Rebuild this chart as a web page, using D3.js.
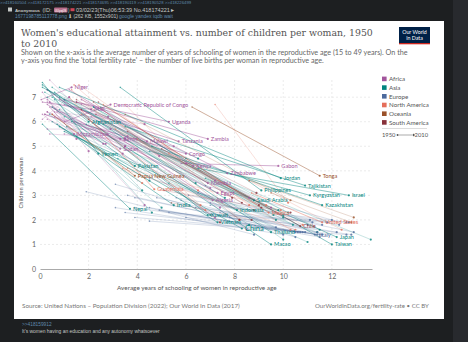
<html>
<head>
<script src="https://d3js.org/d3.v7.min.js"></script>
<style>
body { margin: 0; background: #1d1f21; }
svg { display: block; }
</style>
</head>
<body>
<div id="plot"></div>
<script>
var width = 468, height = 342;

// [country, schooling 1950, fertility 1950, schooling 2010, fertility 2010]
var africa = [
  ["Niger", 0.05, 6.9, 1.3, 7.4], ["Mali", 0.1, 6.8, 2.1, 6.5],
  ["Democratic Republic of Congo", 1.0, 6.0, 2.9, 6.7], ["Mozambique", 0.4, 6.6, 1.4, 5.5],
  ["Benin", 0.2, 6.3, 3.3, 5.3], ["Sudan", 0.3, 6.7, 3.3, 4.9], ["Malawi", 0.8, 6.9, 4.4, 5.2],
  ["Uganda", 1.0, 6.9, 5.3, 6.0], ["Tanzania", 1.0, 6.7, 5.7, 5.2], ["Zambia", 1.5, 6.8, 6.9, 5.3],
  ["Congo", 1.4, 6.0, 6.0, 4.7], ["Kenya", 1.2, 7.3, 6.3, 4.2], ["Zimbabwe", 1.7, 6.9, 7.7, 3.9],
  ["Namibia", 2.1, 6.2, 6.9, 3.5], ["Gabon", 5.8, 4.3, 9.8, 4.2], ["Egypt", 0.5, 6.6, 7.3, 3.1],
  ["Algeria", 0.3, 7.3, 7.1, 2.8], ["Chad", 0.1, 6.1, 1.2, 7.0], ["Ethiopia", 0.1, 7.2, 2.0, 4.8],
  ["Nigeria", 0.7, 6.4, 4.3, 5.9], ["Senegal", 0.3, 6.4, 2.6, 5.1], ["Guinea", 0.1, 6.3, 1.5, 5.3],
  ["Cameroon", 1.0, 5.5, 5.5, 5.0], ["Ghana", 0.6, 6.4, 6.0, 4.3], ["Cote d'Ivoire", 0.3, 7.3, 3.5, 5.0],
  ["Rwanda", 0.4, 7.7, 3.4, 4.7], ["Burundi", 0.4, 6.8, 2.8, 6.2], ["Sierra Leone", 0.3, 6.1, 2.7, 5.1],
  ["Liberia", 0.6, 6.2, 3.6, 5.4], ["Togo", 0.3, 6.4, 4.9, 4.6], ["Central African Republic", 0.4, 5.5, 3.5, 5.3],
  ["Lesotho", 2.5, 5.7, 7.0, 3.3], ["Botswana", 1.7, 6.5, 8.6, 2.9], ["South Africa", 3.2, 6.0, 9.5, 2.5],
  ["Eswatini", 1.7, 6.7, 7.2, 3.6], ["Morocco", 0.3, 6.9, 4.3, 2.6], ["Tunisia", 0.3, 6.8, 7.2, 2.1],
  ["Libya", 0.4, 6.8, 7.4, 2.5], ["Mauritius", 2.5, 6.0, 8.5, 1.6], ["Gambia", 0.3, 5.7, 2.9, 5.7],
  ["Mauritania", 0.2, 6.3, 3.5, 5.0]
];
var asia = [
  ["Afghanistan", 0.1, 7.5, 2.0, 6.0], ["Yemen", 0.1, 7.6, 2.4, 4.7], ["Pakistan", 0.5, 6.6, 3.9, 4.2],
  ["Jordan", 0.8, 7.4, 9.9, 3.7], ["Tajikistan", 3.5, 5.8, 10.9, 3.4], ["Kyrgyzstan", 4.5, 4.8, 11.1, 3.0],
  ["Israel", 6.5, 4.1, 12.7, 3.0], ["Kazakhstan", 4.6, 5.0, 11.6, 2.6], ["Japan", 6.8, 3.7, 12.2, 1.3],
  ["Taiwan", 2.2, 6.6, 12.0, 1.0], ["Macao", 3.5, 5.0, 9.5, 1.0], ["Thailand", 2.4, 6.0, 9.5, 1.5],
  ["China", 0.8, 5.8, 8.3, 1.65], ["India", 0.7, 5.9, 5.5, 2.6], ["Vietnam", 1.5, 5.4, 7.3, 1.9],
  ["Kuwait", 0.6, 7.2, 6.9, 2.2], ["Indonesia", 1.0, 5.6, 8.1, 2.4], ["Saudi Arabia", 0.1, 7.4, 8.8, 2.8],
  ["Philippines", 3.3, 7.4, 9.1, 3.2], ["Nepal", 0.1, 5.9, 3.7, 2.45], ["South Korea", 1.9, 5.9, 13.6, 1.2],
  ["Iran", 0.3, 7.0, 8.6, 1.8], ["Iraq", 0.3, 7.3, 6.5, 4.5], ["Syria", 0.5, 7.4, 6.4, 3.5],
  ["Bangladesh", 0.4, 6.3, 5.0, 2.5], ["Myanmar", 1.3, 6.0, 4.6, 2.3], ["Cambodia", 0.6, 6.9, 4.2, 3.2],
  ["Laos", 0.5, 6.0, 4.5, 3.6], ["Malaysia", 1.0, 6.2, 10.0, 2.2], ["Sri Lanka", 2.6, 5.9, 10.2, 2.3],
  ["Mongolia", 1.1, 5.8, 9.8, 2.4], ["Turkey", 0.8, 6.5, 7.0, 2.2], ["Bahrain", 0.5, 7.0, 9.6, 2.2],
  ["Qatar", 0.8, 7.0, 10.0, 2.1], ["United Arab Emirates", 1.0, 6.9, 10.4, 1.8], ["Oman", 0.2, 7.2, 7.6, 2.9],
  ["Armenia", 6.0, 4.5, 11.5, 1.6], ["Singapore", 2.2, 6.6, 10.0, 1.2], ["Hong Kong", 3.2, 4.5, 11.0, 1.1],
  ["Brunei", 2.5, 6.6, 9.7, 2.0], ["Cyprus", 5.3, 3.5, 11.4, 1.5]
];
var europe = [
  ["Italy", 4.9, 2.4, 11.4, 1.4], ["Portugal", 1.9, 3.15, 8.8, 1.4], ["Spain", 3.1, 2.5, 10.0, 1.4],
  ["Greece", 3.5, 2.3, 10.8, 1.5], ["Albania", 1.5, 5.5, 9.7, 1.7], ["Serbia", 3.6, 3.0, 10.5, 1.5],
  ["Romania", 3.9, 2.9, 10.7, 1.5], ["Bulgaria", 3.9, 2.5, 10.6, 1.5], ["Poland", 4.5, 3.7, 11.6, 1.4],
  ["Hungary", 4.5, 2.5, 11.5, 1.3], ["France", 5.6, 2.9, 11.1, 2.0], ["United Kingdom", 7.6, 2.2, 12.6, 1.9],
  ["Germany", 7.8, 2.1, 12.8, 1.4], ["Netherlands", 6.5, 3.1, 11.6, 1.8], ["Belgium", 5.3, 2.3, 11.0, 1.8],
  ["Ireland", 6.8, 3.4, 12.0, 2.0], ["Norway", 7.0, 2.6, 12.7, 1.9], ["Sweden", 7.1, 2.2, 11.8, 1.9],
  ["Finland", 6.1, 3.0, 12.3, 1.8], ["Denmark", 6.4, 2.5, 11.2, 1.9], ["Switzerland", 7.4, 2.3, 12.2, 1.5],
  ["Austria", 6.0, 2.1, 11.5, 1.4], ["Czechia", 7.0, 2.7, 12.9, 1.5], ["Russia", 4.8, 2.9, 11.4, 1.5],
  ["Ukraine", 5.8, 2.8, 11.3, 1.4], ["Moldova", 3.1, 3.45, 10.5, 1.3], ["Croatia", 3.9, 2.1, 10.9, 1.5],
  ["Slovakia", 4.5, 1.95, 12.6, 1.4]
];
var northAmerica = [
  ["United States", 8.7, 3.1, 11.6, 1.9], ["Mexico", 2.6, 6.7, 9.4, 2.3], ["Guatemala", 1.2, 7.0, 4.7, 3.25],
  ["Canada", 8.6, 3.6, 12.4, 1.6], ["Cuba", 3.4, 4.1, 10.5, 1.6], ["Dominican Republic", 1.6, 7.5, 8.6, 2.6],
  ["Haiti", 0.5, 6.3, 4.2, 3.5], ["Honduras", 1.4, 7.5, 6.5, 3.2], ["El Salvador", 1.7, 6.3, 6.8, 2.4],
  ["Nicaragua", 1.3, 7.3, 6.6, 2.6], ["Costa Rica", 3.5, 6.7, 8.2, 2.0], ["Panama", 3.1, 5.7, 9.3, 2.6],
  ["Jamaica", 3.6, 4.1, 9.9, 2.4], ["Trinidad and Tobago", 4.0, 5.3, 10.8, 1.8], ["Barbados", 5.3, 4.7, 10.3, 1.6],
  ["Belize", 7.2, 6.7, 10.2, 2.7]
];
var oceania = [
  ["Papua New Guinea", 0.5, 6.3, 3.9, 3.8], ["Tonga", 6.25, 6.6, 11.5, 3.8],
  ["Australia", 9.5, 3.1, 12.8, 1.9], ["New Zealand", 8.6, 3.6, 12.9, 2.1], ["Fiji", 3.5, 6.3, 10.3, 2.8]
];
var southAmerica = [
  ["Chile", 5.0, 4.9, 10.7, 1.75], ["Argentina", 5.1, 3.2, 10.3, 2.3], ["Brazil", 2.0, 6.1, 7.4, 1.9],
  ["Colombia", 2.2, 6.8, 8.2, 2.0], ["Peru", 1.5, 6.9, 9.1, 2.5], ["Venezuela", 1.7, 6.5, 8.8, 2.4],
  ["Bolivia", 1.5, 6.8, 8.9, 3.1], ["Ecuador", 2.4, 6.8, 9.0, 2.6], ["Paraguay", 2.3, 6.3, 7.9, 2.9],
  ["Uruguay", 5.4, 2.7, 8.7, 2.0], ["Guyana", 3.6, 5.6, 8.3, 2.7]
];

var labelled = ["Niger", "Mali", "Democratic Republic of Congo", "Afghanistan", "Mozambique", "Benin",
  "Sudan", "Malawi", "Yemen", "Pakistan", "Papua New Guinea", "Uganda", "Tanzania", "Zambia", "Congo",
  "Kenya", "Zimbabwe", "Namibia", "Gabon", "Jordan", "Tajikistan", "Tonga", "Kyrgyzstan", "Israel",
  "Kazakhstan", "United States", "Chile", "Italy", "Japan", "Taiwan", "Macao", "Thailand", "China",
  "India", "Vietnam", "Kuwait", "Indonesia", "Mexico", "Saudi Arabia", "Philippines", "Egypt",
  "Algeria", "Guatemala", "Nepal"];

var continents = ["Africa", "Asia", "Europe", "North America", "Oceania", "South America"];
var xTicks = [0, 2, 4, 6, 8, 10, 12];
var yTicks = [0, 1, 2, 3, 4, 5, 6, 7];

var replyLinks = ">>418160504 >>418172175 >>418174221 >>418174695 >>418190119 >>418190528 >>418226499";
var postText = "It's women having an education and any autonomy whatsoever";

var rows = [];
[africa, asia, europe, northAmerica, oceania, southAmerica].forEach(function (list, i) {
  list.forEach(function (r) {
    rows.push({ name: r[0], region: continents[i], x0: r[1], y0: r[2], x1: r[3], y1: r[4],
      lab: labelled.indexOf(r[0]) >= 0 });
  });
});

var color = d3.scaleOrdinal().domain(continents)
  .range(["#a2559c", "#00847e", "#4c6a9c", "#e56e5a", "#9a5129", "#883039"]);

var svg = d3.select("#plot").append("svg").attr("width", width).attr("height", height);

function fit(sel, w) {
  var l = sel.node().getComputedTextLength();
  sel.attr("font-size", parseFloat(sel.attr("font-size")) * w / l);
  return sel;
}

// page around the image
svg.append("rect").attr("x", 453).attr("y", 0).attr("width", 15).attr("height", height).attr("fill", "#282a2e");

var head = svg.append("g").attr("font-family", "Arial, 'Liberation Sans', sans-serif");
fit(head.append("text").attr("x", 0).attr("y", 4).attr("font-size", 5).attr("fill", "#5f89ac").text(replyLinks), 192);
head.append("rect").attr("x", 8).attr("y", 7.5).attr("width", 4).attr("height", 4).attr("fill", "#c5c8c6");
fit(head.append("text").attr("x", 15).attr("y", 11.5).attr("font-size", 5).attr("font-weight", "bold").attr("fill", "#c5c8c6").text("Anonymous"), 25);
fit(head.append("text").attr("x", 42.5).attr("y", 11.5).attr("font-size", 5).attr("fill", "#c5c8c6").text("(ID:"), 9);
head.append("rect").attr("x", 54).attr("y", 7.5).attr("width", 13.5).attr("height", 5).attr("rx", 1).attr("fill", "#b76d8a");
fit(head.append("text").attr("x", 55).attr("y", 11.5).attr("font-size", 5).attr("fill", "#fff").text("0Uyq0S"), 11.5);
head.append("text").attr("x", 68).attr("y", 11.5).attr("font-size", 4.5).attr("fill", "#c5c8c6").text(")");
head.append("rect").attr("x", 70.5).attr("y", 8.2).attr("width", 4).attr("height", 3).attr("fill", "#cc4455");
fit(head.append("text").attr("x", 76).attr("y", 11.5).attr("font-size", 5).attr("fill", "#c5c8c6").text("03/02/23(Thu)06:53:39 No.418174221 ▸"), 99);
fit(head.append("text").attr("x", 15).attr("y", 18).attr("font-size", 5).attr("fill", "#5f89ac").text("1677198785113778.png"), 52);
fit(head.append("text").attr("x", 68).attr("y", 18).attr("font-size", 5).attr("fill", "#c5c8c6").text("⬇ (262 KB, 1552x901)"), 50);
fit(head.append("text").attr("x", 119).attr("y", 18).attr("font-size", 5).attr("fill", "#5f89ac").text("google yandex iqdb wait"), 54);
head.append("text").attr("x", 22).attr("y", 326).attr("font-size", 4.8).attr("fill", "#5f89ac").text(">>418159912");
fit(head.append("text").attr("x", 22).attr("y", 333).attr("font-size", 5).attr("fill", "#c5c8c6").text(postText), 138);

// the chart image
svg.append("rect").attr("x", 14).attr("y", 21).attr("width", 430).attr("height", 298).attr("fill", "#fff");

var title = svg.append("g").attr("font-family", "'DejaVu Serif', serif").attr("fill", "#555");
fit(title.append("text").attr("x", 21).attr("y", 36).attr("font-size", 10)
  .text("Women's educational attainment vs. number of children per woman, 1950"), 352);
var t2 = title.append("text").attr("x", 21).attr("y", 47).text("to 2010");
t2.attr("font-size", title.select("text").attr("font-size"));

var sub = svg.append("g").attr("font-family", "Lato, sans-serif").attr("fill", "#666");
var s1 = fit(sub.append("text").attr("x", 21).attr("y", 55).attr("font-size", 6)
  .text("Shown on the x-axis is the average number of years of schooling of women in the reproductive age (15 to 49 years). On the"), 387);
sub.append("text").attr("x", 21).attr("y", 62.5).attr("font-size", s1.attr("font-size"))
  .text("y-axis you find the 'total fertility rate' – the number of live births per woman in reproductive age.");

// logo
svg.append("rect").attr("x", 399).attr("y", 27).attr("width", 31).attr("height", 17).attr("fill", "#002147");
svg.append("rect").attr("x", 399).attr("y", 43).attr("width", 31).attr("height", 1.3).attr("fill", "#ce261e");
svg.append("text").attr("x", 414.5).attr("y", 34).attr("text-anchor", "middle").attr("font-family", "Lato, sans-serif")
  .attr("font-size", 5.3).attr("fill", "#fff").text("Our World");
svg.append("text").attr("x", 414.5).attr("y", 40).attr("text-anchor", "middle").attr("font-family", "Lato, sans-serif")
  .attr("font-size", 5.3).attr("fill", "#fff").text("in Data");

// scales
var x = d3.scaleLinear().domain([0, 13.65]).range([40, 372]);
var y = d3.scaleLinear().domain([0, 7.7]).range([269, 80]);

var grid = svg.append("g").attr("stroke", "#ddd").attr("stroke-width", 0.6).attr("stroke-dasharray", "2,2");
grid.selectAll(".gx").data(xTicks.slice(1)).join("line")
  .attr("x1", d => x(d)).attr("x2", d => x(d)).attr("y1", y(7.7)).attr("y2", y(0));
grid.selectAll(".gy").data(yTicks.slice(1)).join("line")
  .attr("x1", x(0)).attr("x2", x(13.65)).attr("y1", d => y(d)).attr("y2", d => y(d));

var xAxis = svg.append("g").attr("transform", "translate(0," + y(0) + ")")
  .call(d3.axisBottom(x).tickValues(xTicks).tickSize(0).tickPadding(5));
xAxis.select(".domain").attr("stroke", "#aaa");
xAxis.selectAll("text").attr("font-family", "Lato, sans-serif").attr("font-size", 7).attr("fill", "#666");

var yAxis = svg.append("g").attr("transform", "translate(" + x(0) + ",0)")
  .call(d3.axisLeft(y).tickValues(yTicks).tickSize(0).tickPadding(4));
yAxis.select(".domain").remove();
yAxis.selectAll("text").attr("font-family", "Lato, sans-serif").attr("font-size", 7).attr("fill", "#666");

svg.append("text").attr("transform", "translate(23," + 183 + ") rotate(-90)").attr("text-anchor", "middle")
  .attr("font-family", "Lato, sans-serif").attr("font-size", 5.8).attr("fill", "#555").text("Children per woman");
fit(svg.append("text").attr("x", 117).attr("y", 290).attr("font-family", "Lato, sans-serif").attr("font-size", 6)
  .attr("fill", "#555").text("Average years of schooling of women in reproductive age"), 160);

// connected lines 1950 -> 2010
var marks = svg.append("g");
marks.selectAll("line").data(rows).join("line")
  .attr("x1", d => x(d.x0)).attr("y1", d => y(d.y0))
  .attr("x2", d => x(d.x1)).attr("y2", d => y(d.y1))
  .attr("stroke", d => color(d.region)).attr("stroke-width", d => d.lab ? 0.9 : 0.7)
  .attr("opacity", d => d.lab ? 0.5 : 0.3);
marks.selectAll(".start").data(rows).join("circle").attr("class", "start")
  .attr("cx", d => x(d.x0)).attr("cy", d => y(d.y0)).attr("r", 0.8)
  .attr("fill", d => color(d.region)).attr("opacity", 0.6);
marks.selectAll(".end").data(rows).join("circle").attr("class", "end")
  .attr("cx", d => x(d.x1)).attr("cy", d => y(d.y1)).attr("r", 1.1)
  .attr("fill", d => color(d.region)).attr("opacity", 0.8);

var labelRows = rows.filter(d => d.lab);
marks.selectAll(".lab").data(labelRows).join("text").attr("class", "lab")
  .attr("x", d => x(d.x1) + 3).attr("y", d => y(d.y1)).attr("dy", "0.35em")
  .attr("font-family", "Lato, sans-serif")
  .attr("font-size", d => d.name === "China" ? 7.5 : (d.name === "India" ? 6.5 : 5.6))
  .attr("fill", d => color(d.region)).text(d => d.name);

// legend
var legend = svg.append("g").attr("font-family", "Lato, sans-serif");
var lg = legend.selectAll("g").data(continents).join("g")
  .attr("transform", (d, i) => "translate(382," + (79 + i * 8.7) + ")");
lg.append("rect").attr("x", 0).attr("y", -2.4).attr("width", 4.6).attr("height", 4.6).attr("fill", d => color(d));
lg.append("text").attr("x", 7).attr("dy", "0.35em").attr("font-size", 6.2).attr("fill", "#555").text(d => d);
legend.append("line").attr("x1", 382).attr("x2", 427).attr("y1", 128.5).attr("y2", 128.5).attr("stroke", "#ddd");
legend.append("text").attr("x", 382).attr("y", 137).attr("font-size", 5.8).attr("fill", "#555").text("1950");
legend.append("text").attr("x", 428).attr("y", 137).attr("text-anchor", "end").attr("font-size", 5.8).attr("fill", "#555").text("2010");
legend.append("line").attr("x1", 397.5).attr("x2", 413).attr("y1", 135).attr("y2", 135).attr("stroke", "#555").attr("stroke-width", 0.5);
legend.append("circle").attr("cx", 397.5).attr("cy", 135).attr("r", 0.9).attr("fill", "#555");
legend.append("path").attr("d", "M413,133.6 L415.2,135 L413,136.4 Z").attr("fill", "#555");

// footer
var foot = svg.append("g").attr("font-family", "Lato, sans-serif").attr("fill", "#777");
fit(foot.append("text").attr("x", 22).attr("y", 308).attr("font-size", 6)
  .text("Source: United Nations – Population Division (2022); Our World In Data (2017)"), 218);
fit(foot.append("text").attr("x", 315).attr("y", 308).attr("font-size", 6)
  .text("OurWorldInData.org/fertility-rate • CC BY"), 114);
</script>
</body>
</html>
